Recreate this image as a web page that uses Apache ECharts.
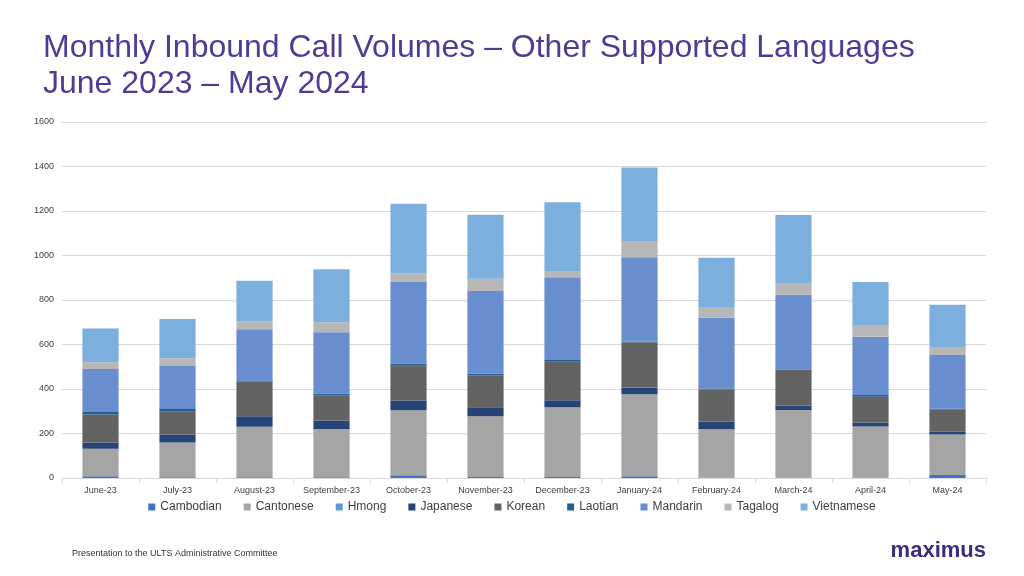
<!DOCTYPE html>
<html><head><meta charset="utf-8">
<script src="https://cdn.jsdelivr.net/npm/echarts@6/dist/echarts.min.js"></script>
<style>body{margin:0;background:#fff}#c{width:1024px;height:576px}</style></head>
<body><div id="c"></div>
<script>
const categories=['June-23','July-23','August-23','September-23','October-23','November-23','December-23','January-24','February-24','March-24','April-24','May-24'];
const cambodian=[8,3,3,3,12,5,5,8,2,2,2,13];
const cantonese=[124,157,227,217,293,272,313,368,217,304,229,183];
const hmong=[0,0,0,0,0,0,0,0,0,0,0,0];
const japanese=[28,35,48,38,43,41,32,30,34,19,19,12];
const korean=[125,105,154,114,157,144,173,204,146,160,115,101];
const laotian=[12,10,3,8,10,8,7,2,3,2,8,2];
const mandarin=[193,193,233,275,368,370,372,380,318,337,262,242];
const tagalog=[30,35,37,45,37,55,28,70,48,52,53,36];
const vietnamese=[152,177,182,238,313,288,309,334,222,306,193,190];
const yTicks=[0,200,400,600,800,1000,1200,1400,1600];
const names=['Cambodian','Cantonese','Hmong','Japanese','Korean','Laotian','Mandarin','Tagalog','Vietnamese'];
const datas=[cambodian,cantonese,hmong,japanese,korean,laotian,mandarin,tagalog,vietnamese];
const colors=['#4472C4','#A5A5A5','#5B9BD5','#264478','#636363','#255E91','#698ED0','#B7B7B7','#7CAFDD'];
const chart=echarts.init(document.getElementById('c'));
chart.setOption({
  animation:false,
  textStyle:{fontFamily:'Liberation Sans, Arial'},
  title:{text:'Monthly Inbound Call Volumes – Other Supported Languages\nJune 2023 – May 2024',left:38,top:25,
    textStyle:{color:'#503A96',fontSize:32,fontWeight:'normal',lineHeight:36,fontFamily:'Liberation Sans, Arial'}},
  graphic:[
    {type:'text',left:72,top:549,style:{text:'P r e s e n t a t i o n   t o   t h e   U L T S   A d m i n i s t r a t i v e   C o m m i t t e e'.replace(/ (?! )/g,'').replace(/  /g,' '),fill:'#333',fontSize:9,fontFamily:'Liberation Sans'}},
    {type:'text',right:38,top:540,style:{text:'maximus',fill:'#3C2A7E',fontSize:22,fontWeight:'bold',fontFamily:'Liberation Sans'}}
  ],
  legend:{bottom:58,itemWidth:7,itemHeight:7,itemGap:22,icon:'rect',textStyle:{fontSize:12,color:'#404040'},data:names},
  grid:{left:62,right:38,top:122,bottom:98},
  xAxis:{type:'category',data:categories,axisTick:{show:true,length:5,lineStyle:{color:'#d9d9d9'}},axisLine:{lineStyle:{color:'#d9d9d9'}},
    axisLabel:{fontSize:9,color:'#404040'}},
  yAxis:{type:'value',min:0,max:1600,interval:200,axisLabel:{fontSize:9,color:'#404040',formatter:v=>String(v)},splitLine:{lineStyle:{color:'#d9d9d9'}}},
  series:names.map((n,i)=>({name:n,type:'bar',stack:'a',barWidth:'47%',data:datas[i],itemStyle:{color:colors[i]}}))
});
</script></body></html>
